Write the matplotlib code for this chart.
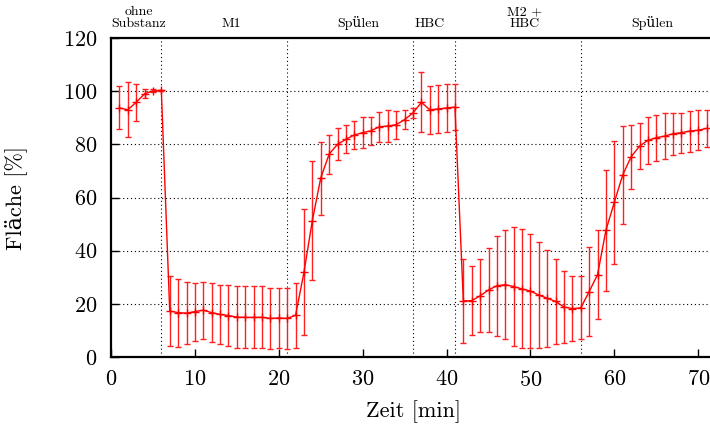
import matplotlib
matplotlib.use("Agg")
import matplotlib.pyplot as plt
import numpy as np

# ---- data ----
zeit = list(range(1, 72))
flaeche = [
    93.7, 93.0, 95.8, 99.0, 100.1, 100.3,                       # ohne Substanz 1-6
    17.3, 16.7, 16.5, 17.1, 17.6, 16.7, 16.0, 15.6, 15.0, 14.9,  # M1 7-16
    14.9, 14.9, 14.5, 14.7, 14.5,                                # 17-21
    15.7, 31.8, 51.3, 67.3, 76.3, 80.0, 81.9, 83.5, 84.4, 85.1,  # Spuelen 22-31
    86.6, 86.9, 87.4, 89.3, 91.8,                                # 32-36
    95.8, 93.0, 93.3, 93.7, 94.0,                                # HBC 37-41
    21.1, 21.2, 23.0, 25.2, 26.8, 27.2, 26.5, 25.6, 24.8, 23.3,  # M2+HBC 42-51
    22.1, 20.9, 18.8, 18.2, 18.5,                                # 52-56
    24.6, 31.0, 47.7, 58.2, 68.5, 75.3, 79.3, 81.5, 82.5, 83.1,  # Spuelen 57-66
    84.0, 84.4, 85.0, 85.3, 86.0,                                # 67-71
]
fehler = [
    8.1, 10.3, 6.9, 1.7, 0.6, 0.3,
    13.3, 12.8, 11.7, 10.9, 10.7, 11.0, 11.2, 11.4, 11.7, 11.7,
    11.7, 11.7, 11.5, 11.3, 11.5,
    12.3, 23.7, 22.4, 13.7, 7.3, 6.0, 5.3, 5.3, 5.9, 5.3,
    5.6, 5.9, 5.3, 3.7, 1.9,
    11.3, 9.1, 9.0, 9.0, 8.7,
    15.9, 13.0, 13.7, 15.7, 18.9, 20.6, 22.3, 22.4, 21.4, 20.0,
    18.3, 16.0, 13.5, 12.3, 11.9,
    16.7, 16.8, 22.7, 23.1, 18.4, 12.1, 8.6, 8.9, 8.7, 8.7,
    7.9, 7.5, 7.7, 7.5, 7.1,
]
phasen_grenzen = [6, 21, 36, 41, 56]
phasen_namen = ["ohne\nSubstanz", "M1", "Spülen", "HBC", "M2 +\nHBC", "Spülen"]
phasen_pos = [3.3, 14.4, 29.5, 38.0, 49.3, 64.5]
x_ticks = [0, 10, 20, 30, 40, 50, 60, 70]
y_ticks = [0, 20, 40, 60, 80, 100, 120]

# ---- style ----
plt.rcParams['font.family'] = ['cmr10', 'DejaVu Serif']
plt.rcParams['axes.formatter.use_mathtext'] = True

fig = plt.figure(figsize=(7.10, 4.29), dpi=100)
ax = fig.add_axes([111/710, 72/429, 604/710, 319/429])

for yv in y_ticks[1:-1]:
    ax.axhline(yv, color='black', lw=0.8, ls=(0, (1, 2.5)), zorder=1)
for xv in phasen_grenzen:
    ax.axvline(xv, color='black', lw=0.8, ls=(0, (1, 2.5)), zorder=1)

ax.errorbar(zeit, flaeche, yerr=fehler, color='#ff0000', ecolor='#ff2020',
            elinewidth=1.0, capsize=2.2, capthick=1.0, lw=1.0,
            marker='+', markersize=6, markeredgewidth=1.0, zorder=3)

ax.set_xlim(0, 72)
ax.set_ylim(0, 120)
ax.set_xticks(x_ticks)
ax.set_yticks(y_ticks)
ax.tick_params(axis='y', direction='in', length=6, width=1.0,
               labelsize=16, right=False, pad=10)
ax.tick_params(axis='x', direction='in', length=6, width=1.0,
               labelsize=16, top=False, pad=9)
for s in ['left', 'bottom', 'top']:
    ax.spines[s].set_linewidth(1.6)
ax.spines['right'].set_visible(False)

ax.set_xlabel("Zeit [min]", fontsize=16, labelpad=8)
ax.set_ylabel("Fläche [%]", fontsize=16, labelpad=26)

for name, pos in zip(phasen_namen, phasen_pos):
    ax.text(pos, 1.036, name, transform=ax.get_xaxis_transform(),
            ha='center', va='baseline', fontsize=10, linespacing=0.9)

fig.savefig("out.png", dpi=100)
